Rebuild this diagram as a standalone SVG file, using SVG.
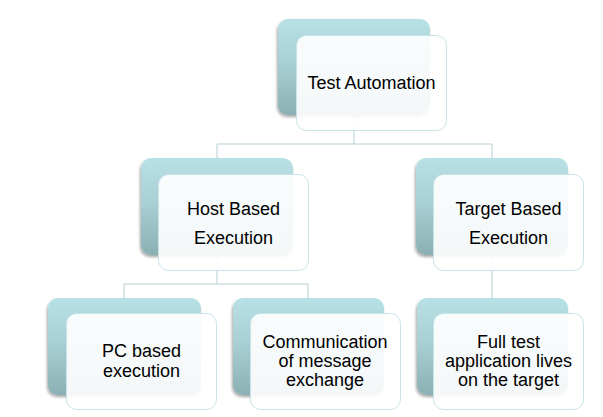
<svg xmlns="http://www.w3.org/2000/svg" width="603" height="417" viewBox="0 0 603 417">
<defs>
<linearGradient id="bg" x1="0" y1="0" x2="0" y2="1">
<stop offset="0" stop-color="#b8e1e5"/>
<stop offset="0.45" stop-color="#a9d0d4"/>
<stop offset="1" stop-color="#8bb0b3"/>
</linearGradient>
<filter id="sh" x="-10%" y="-10%" width="125%" height="130%">
<feGaussianBlur in="SourceAlpha" stdDeviation="1.5"/>
<feOffset dx="-1" dy="2" result="b"/>
<feComponentTransfer><feFuncA type="linear" slope="0.35"/></feComponentTransfer>
<feMerge><feMergeNode/><feMergeNode in="SourceGraphic"/></feMerge>
</filter>
<style>
.back{fill:url(#bg);filter:url(#sh);}
.front{fill:#ffffff;fill-opacity:0.9;stroke:#c6e4e8;stroke-width:1;}
.conn{fill:none;stroke:#b7d1d5;stroke-width:1;}
text{font-family:"Liberation Sans",Arial,sans-serif;font-size:18px;fill:#000000;text-anchor:middle;}
</style>
</defs>
<rect width="603" height="417" fill="#ffffff"/>
<g id="connectors">
<path class="conn" d="M354,114 V144 M217,144 H492 M217,144 V158 M492,144 V158"/>
<path class="conn" d="M217,255 V284 M124,284 H308 M124,284 V298 M308,284 V298"/>
<path class="conn" d="M492,255 V298"/>
</g>
<g id="n-test-automation">
<rect class="back" x="278" y="19" width="152" height="96" rx="10"/>
<rect class="front" x="296.5" y="35.5" width="150" height="95" rx="10"/>
<text x="371.5" y="89">Test Automation</text>
</g>
<g id="n-host">
<rect class="back" x="141" y="158" width="152" height="97" rx="10"/>
<rect class="front" x="158.5" y="174.5" width="150" height="96" rx="10"/>
<text x="233.5" y="215">Host Based</text>
<text x="233.5" y="243.5">Execution</text>
</g>
<g id="n-target">
<rect class="back" x="416" y="158" width="152" height="97" rx="10"/>
<rect class="front" x="433.5" y="174.5" width="150" height="96" rx="10"/>
<text x="508.5" y="215">Target Based</text>
<text x="508.5" y="243.5">Execution</text>
</g>
<g id="n-pc">
<rect class="back" x="48" y="298" width="153" height="97" rx="10"/>
<rect class="front" x="66.5" y="313.5" width="150" height="96" rx="10"/>
<text x="141.5" y="357">PC based</text>
<text x="141.5" y="376.5">execution</text>
</g>
<g id="n-comm">
<rect class="back" x="233" y="298" width="151" height="97" rx="10"/>
<rect class="front" x="250.5" y="313.5" width="150" height="96" rx="10"/>
<text x="325" y="347.5">Communication</text>
<text x="325" y="366.5">of message</text>
<text x="325" y="385.5">exchange</text>
</g>
<g id="n-full">
<rect class="back" x="417" y="298" width="151" height="97" rx="10"/>
<rect class="front" x="433.5" y="313.5" width="150" height="96" rx="10"/>
<text x="508.5" y="347.5">Full test</text>
<text x="508.5" y="366.5">application lives</text>
<text x="508.5" y="385.5">on the target</text>
</g>
</svg>
